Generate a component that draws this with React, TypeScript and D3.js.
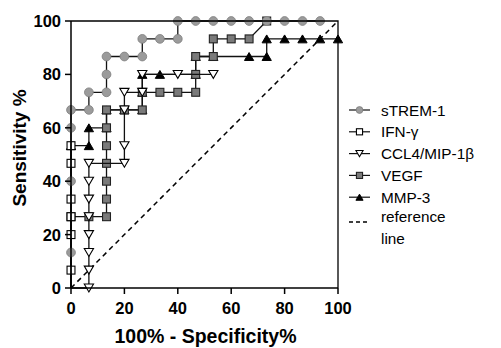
import React from 'react';
import * as d3 from 'd3';

// ---- data (percent) ----
const xTicks = [0, 20, 40, 60, 80, 100];
const yTicks = [0, 20, 40, 60, 80, 100];

const strem1X = [0, 0, 0, 0, 6.7, 6.7, 13.3, 13.3, 13.3, 20, 26.7, 26.7, 33.3, 40, 40, 46.7, 53.3, 60, 66.7, 73.3, 80, 86.7, 93.3];
const strem1Y = [13.3, 40, 60, 66.7, 66.7, 73.3, 73.3, 80, 86.7, 86.7, 86.7, 93.3, 93.3, 93.3, 100, 100, 100, 100, 100, 100, 100, 100, 100];

const ifnX = [0, 0, 0, 0, 0, 0];
const ifnY = [6.7, 20, 26.7, 33.3, 46.7, 53.3];

const ccl4X = [6.7, 6.7, 6.7, 6.7, 6.7, 6.7, 6.7, 6.7, 20, 20, 20, 20, 26.7, 26.7, 40, 53.3];
const ccl4Y = [0, 6.7, 13.3, 20, 26.7, 33.3, 40, 46.7, 46.7, 53.3, 66.7, 73.3, 73.3, 80, 80, 80];

const vegfX = [0, 6.7, 13.3, 13.3, 13.3, 13.3, 13.3, 13.3, 13.3, 20, 26.7, 26.7, 33.3, 40, 46.7, 46.7, 46.7, 53.3, 53.3, 60, 66.7, 73.3];
const vegfY = [26.7, 26.7, 26.7, 33.3, 40, 46.7, 53.3, 60, 66.7, 66.7, 66.7, 73.3, 73.3, 73.3, 73.3, 80, 86.7, 86.7, 93.3, 93.3, 93.3, 100];

const mmp3X = [0, 6.7, 6.7, 13.3, 13.3, 20, 26.7, 26.7, 26.7, 33.3, 46.7, 46.7, 53.3, 66.7, 73.3, 73.3, 80, 86.7, 93.3, 100];
const mmp3Y = [53.3, 53.3, 60, 60, 66.7, 66.7, 66.7, 73.3, 80, 80, 80, 86.7, 86.7, 86.7, 86.7, 93.3, 93.3, 93.3, 93.3, 93.3];

const seriesNames = ['sTREM-1', 'IFN-\u03b3', 'CCL4/MIP-1\u03b2', 'VEGF', 'MMP-3'];
const refName = ['reference', 'line'];

type Marker = 'circle' | 'square' | 'tdown' | 'tup';
interface Series { name: string; xs: number[]; ys: number[]; marker: Marker; fill: string; stroke: string; }

const series: Series[] = [
  { name: seriesNames[0], xs: strem1X, ys: strem1Y, marker: 'circle', fill: '#9b9b9b', stroke: '#7d7d7d' },
  { name: seriesNames[1], xs: ifnX, ys: ifnY, marker: 'square', fill: '#ffffff', stroke: '#000' },
  { name: seriesNames[2], xs: ccl4X, ys: ccl4Y, marker: 'tdown', fill: '#ffffff', stroke: '#000' },
  { name: seriesNames[3], xs: vegfX, ys: vegfY, marker: 'square', fill: '#7a7a7a', stroke: '#222' },
  { name: seriesNames[4], xs: mmp3X, ys: mmp3Y, marker: 'tup', fill: '#000', stroke: '#000' },
];

const FONT = '"Liberation Sans", Arial, Helvetica, sans-serif';

function MarkerShape({ type, cx, cy, s, fill, stroke }: { type: Marker; cx: number; cy: number; s: number; fill: string; stroke: string }) {
  if (type === 'circle') return <circle cx={cx} cy={cy} r={s * 0.5} fill={fill} stroke={stroke} strokeWidth={0.8} />;
  if (type === 'square') return <rect x={cx - s * 0.45} y={cy - s * 0.45} width={s * 0.9} height={s * 0.9} fill={fill} stroke={stroke} strokeWidth={1.1} />;
  const h = s * 0.9;
  const w = s * 1.05;
  if (type === 'tdown') {
    const p = `${cx - w / 2},${cy - h / 2} ${cx + w / 2},${cy - h / 2} ${cx},${cy + h / 2}`;
    return <polygon points={p} fill={fill} stroke={stroke} strokeWidth={1.1} strokeLinejoin="miter" />;
  }
  const p = `${cx - w / 2},${cy + h / 2} ${cx + w / 2},${cy + h / 2} ${cx},${cy - h / 2}`;
  return <polygon points={p} fill={fill} stroke={stroke} strokeWidth={1} />;
}

export default function App() {
  const x = d3.scaleLinear().domain([0, 100]).range([71, 338]);
  const y = d3.scaleLinear().domain([0, 100]).range([288, 21]);
  const line = d3.line<[number, number]>().x(d => x(d[0])).y(d => y(d[1]));

  const drawOrder = [...series].reverse();
  const legendY0 = 110;
  const legendStep = 21.8;

  return (
    <svg width={501} height={348} style={{ position: 'absolute', left: 0, top: 0, background: '#fff' }} fontFamily={FONT}>
      <rect width={501} height={348} fill="#fff" />
      {/* reference line */}
      <line x1={x(0)} y1={y(0)} x2={x(100)} y2={y(100)} stroke="#000" strokeWidth={1.5} strokeDasharray="5,4" />
      {/* series */}
      {drawOrder.map(s => {
        const pts: [number, number][] = [[0, 0], ...s.xs.map((v, i) => [v, s.ys[i]] as [number, number])];
        return (
          <g key={s.name}>
            <path d={line(pts) || ''} fill="none" stroke="#111" strokeWidth={1.3} />
            {s.xs.map((v, i) => (
              <MarkerShape key={i} type={s.marker} cx={x(v)} cy={y(s.ys[i])} s={8.8} fill={s.fill} stroke={s.stroke} />
            ))}
          </g>
        );
      })}
      {/* frame */}
      <path d={`M${x(0)},${y(100)}H${x(100)}V${y(0)}`} fill="none" stroke="#000" strokeWidth={1.3} />
      {/* axes */}
      <line x1={x(0)} y1={y(0)} x2={x(0)} y2={y(100)} stroke="#000" strokeWidth={1.5} />
      <line x1={x(0)} y1={y(0)} x2={x(100)} y2={y(0)} stroke="#000" strokeWidth={1.5} />
      {yTicks.map(t => (
        <g key={'y' + t}>
          <line x1={x(0) - 6} x2={x(0)} y1={y(t)} y2={y(t)} stroke="#000" strokeWidth={1.5} />
          <text x={x(0) - 10} y={y(t)} dy="0.36em" textAnchor="end" fontSize={16.5} fontWeight="bold">{t}</text>
        </g>
      ))}
      {xTicks.map(t => (
        <g key={'x' + t}>
          <line x1={x(t)} x2={x(t)} y1={y(0)} y2={y(0) + 6} stroke="#000" strokeWidth={1.5} />
          <text x={x(t)} y={314} textAnchor="middle" fontSize={16.5} fontWeight="bold">{t}</text>
        </g>
      ))}
      <text x={(x(0) + x(100)) / 2 + 1} y={343} textAnchor="middle" fontSize={19.5} fontWeight="bold">100% - Specificity%</text>
      <text transform={`translate(26,148) rotate(-90)`} textAnchor="middle" fontSize={19} fontWeight="bold">Sensitivity %</text>
      {/* legend */}
      {series.map((s, i) => {
        const ly = legendY0 + i * legendStep;
        return (
          <g key={'lg' + i}>
            <line x1={349} x2={370} y1={ly} y2={ly} stroke="#111" strokeWidth={1.2} />
            <MarkerShape type={s.marker} cx={359.5} cy={ly} s={6.8} fill={s.fill} stroke={s.stroke} />
            <text x={381} y={ly} dy="0.36em" fontSize={15.3}>{s.name}</text>
          </g>
        );
      })}
      <line x1={349} x2={370} y1={legendY0 + 5 * legendStep + 3} y2={legendY0 + 5 * legendStep + 3} stroke="#000" strokeWidth={1.3} strokeDasharray="4,3" />
      <text x={381} y={legendY0 + 5 * legendStep} dy="0.2em" fontSize={15.3}>{refName[0]}</text>
      <text x={381} y={legendY0 + 6 * legendStep} dy="0.2em" fontSize={15.3}>{refName[1]}</text>
    </svg>
  );
}
